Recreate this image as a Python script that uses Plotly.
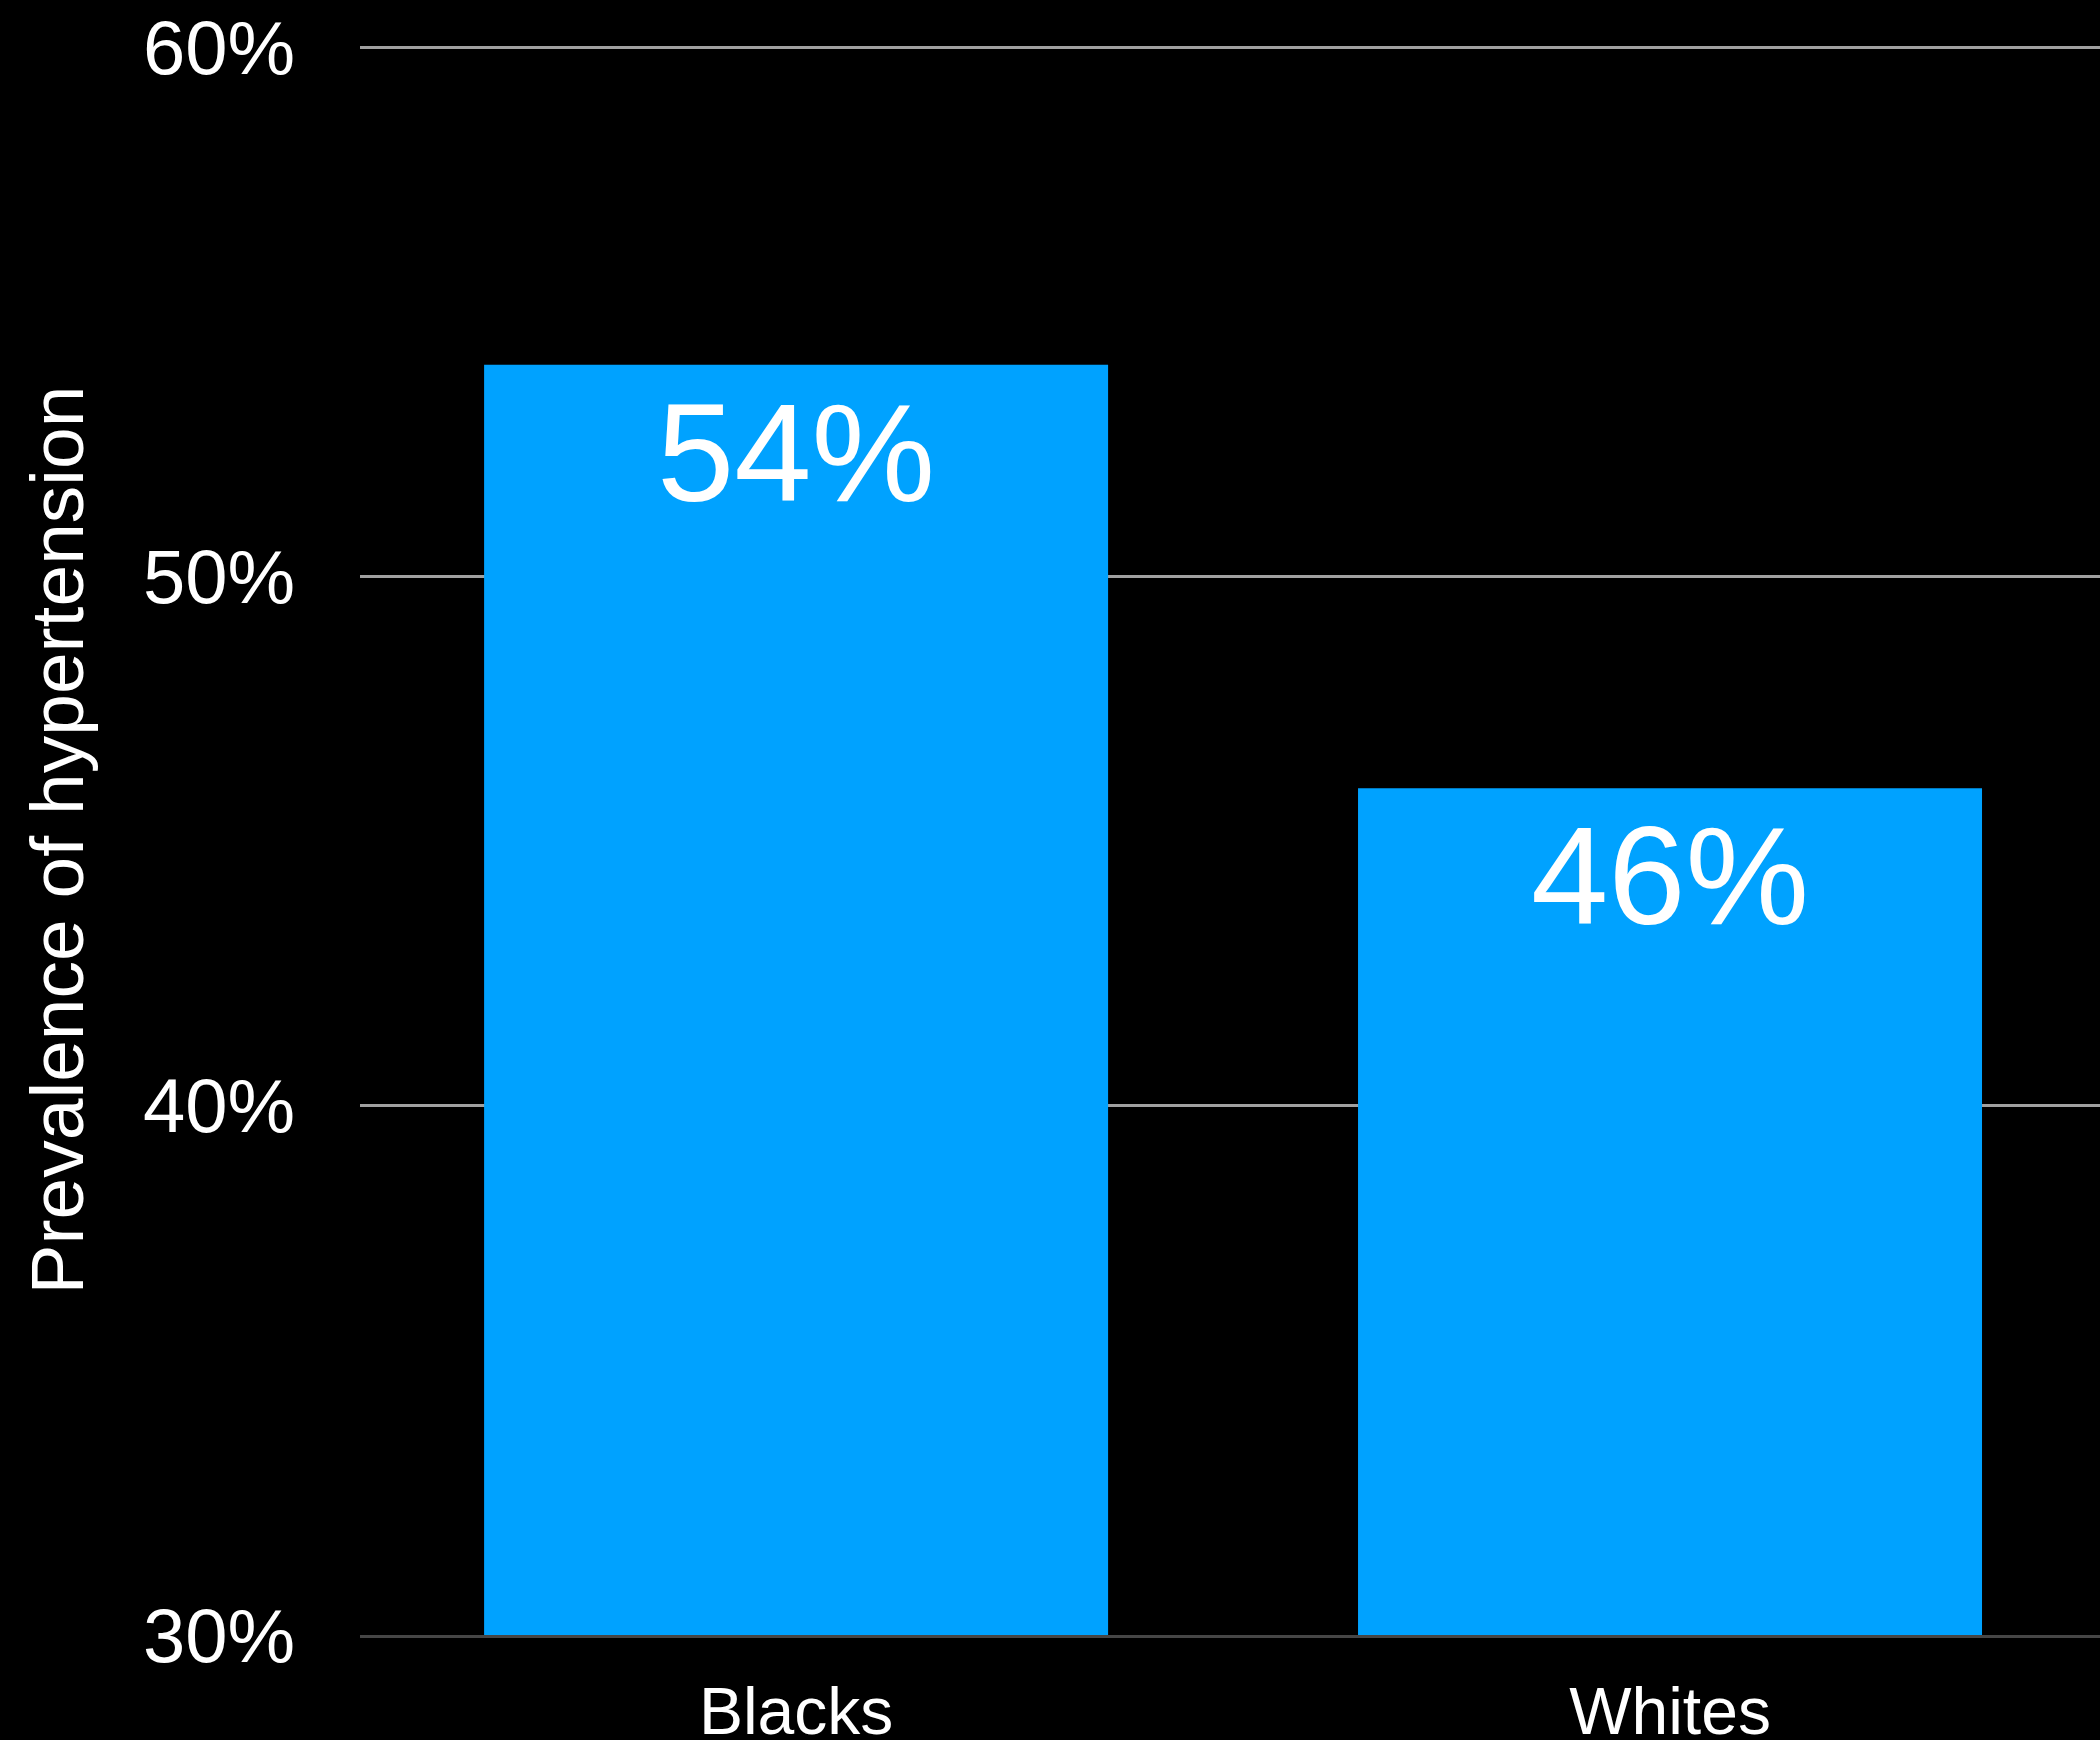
import plotly.graph_objects as go

categories = ["Blacks", "Whites"]
values = [54, 46]
value_labels = ["54%", "46%"]
y_base = 30
y_ticks = [30, 40, 50, 60]
y_tick_labels = ["30%", "40%", "50%", "60%"]
y_title = "Prevalence of hypertension"

FONT = "Liberation Sans, Arial, Helvetica, sans-serif"
x_pos = list(range(len(categories)))

fig = go.Figure(
    go.Bar(
        x=x_pos,
        y=[v - y_base for v in values],
        base=y_base,
        width=0.714,
        marker=dict(color="#00A2FF", line=dict(width=0)),
        hoverinfo="skip",
    )
)

for xi, v, lab in zip(x_pos, values, value_labels):
    fig.add_annotation(
        x=xi, y=v, xref="x", yref="y",
        text=lab, showarrow=False,
        yanchor="top", xanchor="center",
        yshift=-8,
        font=dict(family=FONT, size=139, color="white"),
    )

fig.update_layout(
    width=2100,
    height=1740,
    paper_bgcolor="black",
    plot_bgcolor="black",
    margin=dict(l=360, r=0, t=45, b=105),
    showlegend=False,
    font=dict(family=FONT, color="white"),
)
fig.update_xaxes(
    range=[-0.499, 1.492],
    tickvals=x_pos,
    ticktext=categories,
    tickfont=dict(family=FONT, size=66, color="white"),
    showgrid=False,
    zeroline=False,
    showline=True,
    linecolor="#464646",
    linewidth=3,
    ticks="",
    ticklabelstandoff=17,
    automargin=False,
)
fig.update_yaxes(
    range=[30, 60.04],
    tickvals=y_ticks,
    ticktext=y_tick_labels,
    tickfont=dict(family=FONT, size=76, color="white"),
    showgrid=True,
    gridcolor="#A0A0A0",
    gridwidth=2.5,
    zeroline=False,
    showline=False,
    ticks="",
    ticklabelstandoff=64,
    automargin=False,
    title=dict(text=y_title, font=dict(family=FONT, size=75, color="white"), standoff=34),
)

fig.write_html(
    "out.html",
    config={"displayModeBar": False},
    post_script="document.body.style.margin='0';document.body.style.background='black';",
)
